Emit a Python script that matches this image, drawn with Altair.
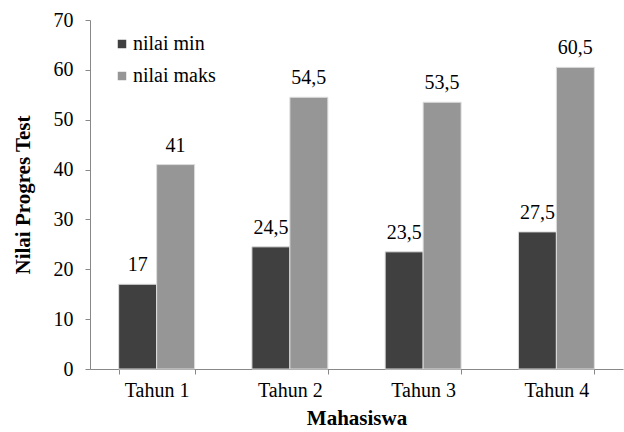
import altair as alt
import pandas as pd

categories = ["Tahun 1", "Tahun 2", "Tahun 3", "Tahun 4"]
series = ["nilai min", "nilai maks"]
nilai_min = [17, 24.5, 23.5, 27.5]
nilai_maks = [41, 54.5, 53.5, 60.5]
y_ticks = [0, 10, 20, 30, 40, 50, 60, 70]

rows = []
for c, a, b in zip(categories, nilai_min, nilai_maks):
    rows.append({"kat": c, "seri": series[0], "nilai": a, "label": f"{a:g}".replace(".", ",")})
    rows.append({"kat": c, "seri": series[1], "nilai": b, "label": f"{b:g}".replace(".", ",")})
df = pd.DataFrame(rows)

FONT = "Liberation Serif, Times New Roman, DejaVu Serif, serif"
FS = 20
TFS = 21

x = alt.X("kat:N", sort=categories, title="Mahasiswa",
          scale=alt.Scale(paddingInner=0.43, paddingOuter=0.215),
          axis=alt.Axis(labelAngle=0, tickBand="extent", labelFontSize=FS, titleFontSize=TFS,
                        labelFont=FONT, titleFont=FONT,
                        titleFontWeight="bold", labelPadding=6, titlePadding=7,
                        domainColor="#888888", tickColor="#888888", tickSize=5))
xo = alt.XOffset("seri:N", sort=series)
y = alt.Y("nilai:Q", title="Nilai Progres Test",
          scale=alt.Scale(domain=[0, 70], nice=False),
          axis=alt.Axis(values=y_ticks, grid=False, labelFontSize=FS, titleFontSize=TFS,
                        labelFont=FONT, titleFont=FONT,
                        titleFontWeight="bold", labelPadding=12, titlePadding=20,
                        domainColor="#888888", tickColor="#888888", tickSize=5))

bars = alt.Chart(df).mark_bar(stroke="#dddddd", strokeWidth=1).encode(
    x=x, xOffset=xo, y=y,
    color=alt.Color("seri:N", sort=series,
                    scale=alt.Scale(domain=series, range=["#404040", "#969696"]),
                    legend=alt.Legend(title=None, orient="none", legendX=22, legendY=14,
                                      symbolType="square", symbolSize=72, symbolStrokeWidth=0,
                                      labelFont=FONT, labelFontSize=FS, rowPadding=12,
                                      labelOffset=1)),
)
text = alt.Chart(df).mark_text(baseline="alphabetic", dy=-13, fontSize=FS, font=FONT,
                               color="black").encode(
    x=alt.X("kat:N", sort=categories), xOffset=xo, y="nilai:Q", text="label:N"
)

chart = (bars + text).properties(
    width=533, height=349,
    autosize=alt.AutoSizeParams(type="none"),
    padding={"left": 90, "top": 20, "right": 1, "bottom": 63},
).configure(font=FONT).configure_view(stroke=None).configure_axis(
    labelColor="black", titleColor="black"
).configure_legend(labelColor="black")

chart.save("out.html", embed_options={"renderer": "svg", "actions": False})
